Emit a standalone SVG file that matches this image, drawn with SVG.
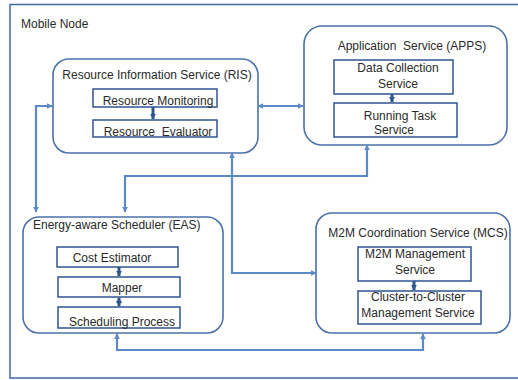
<svg xmlns="http://www.w3.org/2000/svg" width="518" height="380" viewBox="0 0 518 380">
  <style>
    text { font-family: "Liberation Sans", Arial, sans-serif; font-size: 12px; fill: #2a2a2a; }
    .mid { text-anchor: middle; }
    .frame { fill: #ffffff; stroke: #41689e; stroke-width: 1.5; }
    .svc { fill: #ffffff; stroke: #4a72a8; stroke-width: 1.6; }
    .part { fill: #ffffff; stroke: #2f5590; stroke-width: 1.5; }
    .link { fill: none; stroke: #5b8ac6; stroke-width: 2.2; marker-start: url(#tip); marker-end: url(#tip); }
    .step { fill: none; stroke: #2f5590; stroke-width: 3; }
  </style>
  <defs>
    <marker id="tip" viewBox="0 0 10 10" refX="9" refY="5" markerWidth="6" markerHeight="6" markerUnits="userSpaceOnUse" orient="auto-start-reverse">
      <path d="M0,0 L10,5 L0,10 z" fill="#5b8ac6"/>
    </marker>
    <marker id="stepTip" viewBox="0 0 10 10" refX="9" refY="5" markerWidth="6" markerHeight="6" markerUnits="userSpaceOnUse" orient="auto-start-reverse">
      <path d="M0,0 L10,5 L0,10 z" fill="#2f5590"/>
    </marker>
  </defs>

  <rect width="518" height="380" fill="#ffffff"/>

  <!-- enclosing device -->
  <g id="mobile-node">
    <rect class="frame" x="10" y="4.5" width="530" height="373.5"/>
    <text x="21" y="28">Mobile Node</text>
  </g>

  <g id="ris">
    <rect class="svc" x="53" y="59" width="205" height="94" rx="16"/>
    <text class="mid" x="157" y="79">Resource Information Service (RIS)</text>
    <rect class="part" x="93" y="89" width="124" height="18"/>
    <text class="mid" x="158" y="105">Resource Monitoring</text>
    <rect class="part" x="93" y="120" width="124" height="17"/>
    <text class="mid" x="158" y="136" xml:space="preserve">Resource  Evaluator</text>
    <path class="step" d="M153,107 V119" marker-end="url(#stepTip)"/>
  </g>

  <g id="apps">
    <rect class="svc" x="304" y="26" width="203" height="119" rx="18"/>
    <text class="mid" x="412" y="50" xml:space="preserve">Application  Service (APPS)</text>
    <rect class="part" x="334" y="60" width="119" height="34"/>
    <text class="mid" x="398" y="72">Data Collection</text>
    <text class="mid" x="398" y="88">Service</text>
    <rect class="part" x="334" y="103" width="123" height="34"/>
    <text class="mid" x="400" y="120">Running Task</text>
    <text class="mid" x="394" y="134">Service</text>
    <path class="step" d="M392,94 V102" marker-end="url(#stepTip)"/>
  </g>

  <g id="eas">
    <rect class="svc" x="23" y="217" width="200" height="116" rx="16"/>
    <text x="33" y="229">Energy-aware Scheduler (EAS)</text>
    <rect class="part" x="57" y="247" width="121" height="20"/>
    <text class="mid" x="112" y="262">Cost Estimator</text>
    <rect class="part" x="58" y="277" width="122" height="20"/>
    <text class="mid" x="122" y="292">Mapper</text>
    <rect class="part" x="58" y="307" width="122" height="21"/>
    <text class="mid" x="122" y="326">Scheduling Process</text>
    <path class="step" d="M119,267 V276" marker-end="url(#stepTip)"/>
    <path class="step" d="M119,298 V306" marker-start="url(#stepTip)" marker-end="url(#stepTip)"/>
  </g>

  <g id="mcs">
    <rect class="svc" x="316" y="213" width="194" height="120" rx="16"/>
    <text class="mid" x="418" y="237">M2M Coordination Service (MCS)</text>
    <rect class="part" x="358" y="247" width="113" height="34"/>
    <text class="mid" x="415" y="258">M2M Management</text>
    <text class="mid" x="415" y="274">Service</text>
    <rect class="part" x="358" y="291" width="123" height="33"/>
    <text class="mid" x="418" y="301">Cluster-to-Cluster</text>
    <text class="mid" x="418" y="317">Management Service</text>
    <path class="step" d="M414,281 V290" marker-end="url(#stepTip)"/>
  </g>

  <!-- service links -->
  <g id="connectors">
    <path class="link" d="M36,212 V106 H52"/>
    <path class="link" d="M258,106 H303"/>
    <path class="link" d="M367,145 V176 H125 V212"/>
    <path class="link" d="M232,153 V273 H316"/>
    <path class="link" d="M117,334 V350 H423 V334"/>
  </g>
</svg>
